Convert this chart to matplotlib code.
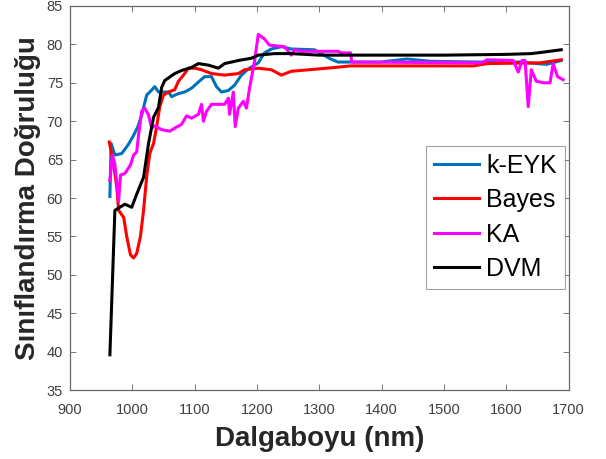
import matplotlib
matplotlib.use('Agg')
import matplotlib.pyplot as plt

plt.rcParams['font.family'] = ['Liberation Sans', 'DejaVu Sans']

# k-EYK (blue)
knn_x = [964, 966, 972, 983, 993, 1001, 1009, 1015, 1023, 1028, 1036, 1042, 1058, 1063, 1074, 1084,
         1095, 1106, 1116, 1127, 1135, 1143, 1154, 1164, 1175, 1186, 1202, 1212, 1223, 1239, 1255,
         1292, 1318, 1330, 1398, 1441, 1478, 1558, 1622, 1664, 1688]
knn_y = [60.2, 67.1, 65.6, 65.8, 66.9, 68.0, 69.3, 70.8, 73.4, 73.8, 74.5, 73.8, 73.8, 73.2, 73.6, 73.8,
         74.3, 75.1, 75.8, 75.8, 74.5, 73.8, 74.0, 74.7, 76.0, 76.8, 77.6, 78.9, 79.4, 79.7, 79.4,
         79.3, 78.1, 77.7, 77.7, 78.1, 77.8, 77.7, 77.7, 77.4, 77.9]

# Bayes (red)
bayes_x = [963, 970, 975, 978, 986, 991, 997, 1002, 1007, 1013, 1018, 1023, 1028, 1034, 1039, 1044,
           1050, 1058, 1068, 1074, 1082, 1090, 1100, 1111, 1127, 1148, 1170, 1180, 1202, 1223, 1239,
           1255, 1319, 1350, 1450, 1547, 1569, 1654, 1688]
bayes_y = [67.3, 64.4, 61.4, 58.4, 57.5, 55.0, 52.6, 52.2, 52.8, 55.0, 58.4, 62.8, 65.8, 67.1, 69.3, 71.9,
           73.4, 73.8, 74.1, 75.2, 76.0, 76.9, 76.9, 76.7, 76.2, 76.0, 76.2, 76.7, 76.9, 76.7, 76.0,
           76.5, 76.95, 77.2, 77.2, 77.2, 77.5, 77.6, 78.0]

# KA (magenta)
ka_x = [964, 968, 972, 978, 981, 988, 997, 1002, 1007, 1010, 1015, 1020, 1026, 1031, 1036, 1047,
        1060, 1068, 1079, 1087, 1095, 1106, 1111, 1114, 1119, 1127, 1148, 1154, 1156, 1162, 1165,
        1170, 1178, 1183, 1188, 1191, 1196, 1202, 1207, 1212, 1220, 1244, 1255, 1260, 1271, 1330,
        1335, 1350, 1352, 1560, 1569, 1611, 1619, 1625, 1630, 1635, 1640, 1648, 1660, 1670, 1675,
        1682, 1691]
ka_y = [62.3, 65.6, 64.4, 59.6, 63.0, 63.2, 64.3, 65.6, 66.0, 68.2, 71.3, 71.7, 70.8, 69.1, 69.4, 68.9,
        68.7, 69.1, 69.6, 70.7, 70.4, 70.9, 72.2, 70.0, 71.3, 72.2, 72.2, 73.0, 70.9, 73.8, 69.3,
        71.7, 72.6, 71.7, 74.3, 75.6, 77.8, 81.3, 81.0, 80.7, 79.9, 79.7, 78.6, 79.3, 79.1, 79.1,
        78.9, 78.9, 77.7, 77.6, 78.0, 77.9, 76.4, 77.9, 77.9, 71.9, 76.7, 75.2, 75.0, 75.0, 77.5,
        75.8, 75.4]

# DVM (black)
dvm_x = [964, 972, 988, 999, 1007, 1018, 1026, 1034, 1042, 1047, 1052, 1068, 1079, 1095, 1106, 1122,
         1138, 1148, 1170, 1191, 1202, 1228, 1255, 1300, 1400, 1500, 1600, 1640, 1660, 1688]
dvm_y = [39.6, 58.4, 59.2, 58.8, 60.5, 62.7, 67.1, 70.5, 71.8, 74.4, 75.3, 76.2, 76.6, 77.0, 77.5, 77.3,
         76.9, 77.5, 77.9, 78.2, 78.6, 78.8, 78.8, 78.6, 78.6, 78.6, 78.7, 78.8, 79.0, 79.3]

labels = ['k-EYK', 'Bayes', 'KA', 'DVM']
colors = ['#0072BD', '#FF0000', '#FF00FF', '#000000']

fig = plt.figure(figsize=(6.06, 4.59), dpi=100)
ax = fig.add_axes([0.1155, 0.150, 0.823, 0.837])

series = [(knn_x, knn_y), (bayes_x, bayes_y), (ka_x, ka_y), (dvm_x, dvm_y)]
for (xs, ys), lab, c in zip(series, labels, colors):
    ax.plot(xs, ys, color=c, lw=2.2, label=lab)

ax.set_xlim(900, 1700)
ax.set_ylim(35, 85)
ax.set_xticks(range(900, 1701, 100))
ax.set_yticks(range(35, 86, 5))
ax.tick_params(direction='in', top=True, right=True, labelsize=10.5, colors='#777777',
               labelcolor='#404040', length=4, width=0.7)
ax.tick_params(axis='x', pad=9)
ax.tick_params(axis='y', pad=5)
for s in ax.spines.values():
    s.set_color('#666666')
    s.set_linewidth(0.9)

ax.set_xlabel('Dalgaboyu (nm)', fontsize=20, fontweight='bold', color='#262626', labelpad=7)
ax.set_ylabel('Sınıflandırma Doğruluğu', fontsize=20, fontweight='bold', color='#262626', labelpad=4)

leg = ax.legend(loc='upper right', bbox_to_anchor=(0.992, 0.635), fontsize=18, frameon=True,
                fancybox=False, edgecolor='#888888', handlelength=1.8, handletextpad=0.3,
                labelspacing=0.42, borderpad=0.3, borderaxespad=0)
leg.get_frame().set_linewidth(0.8)

plt.savefig('out.png', dpi=100)
